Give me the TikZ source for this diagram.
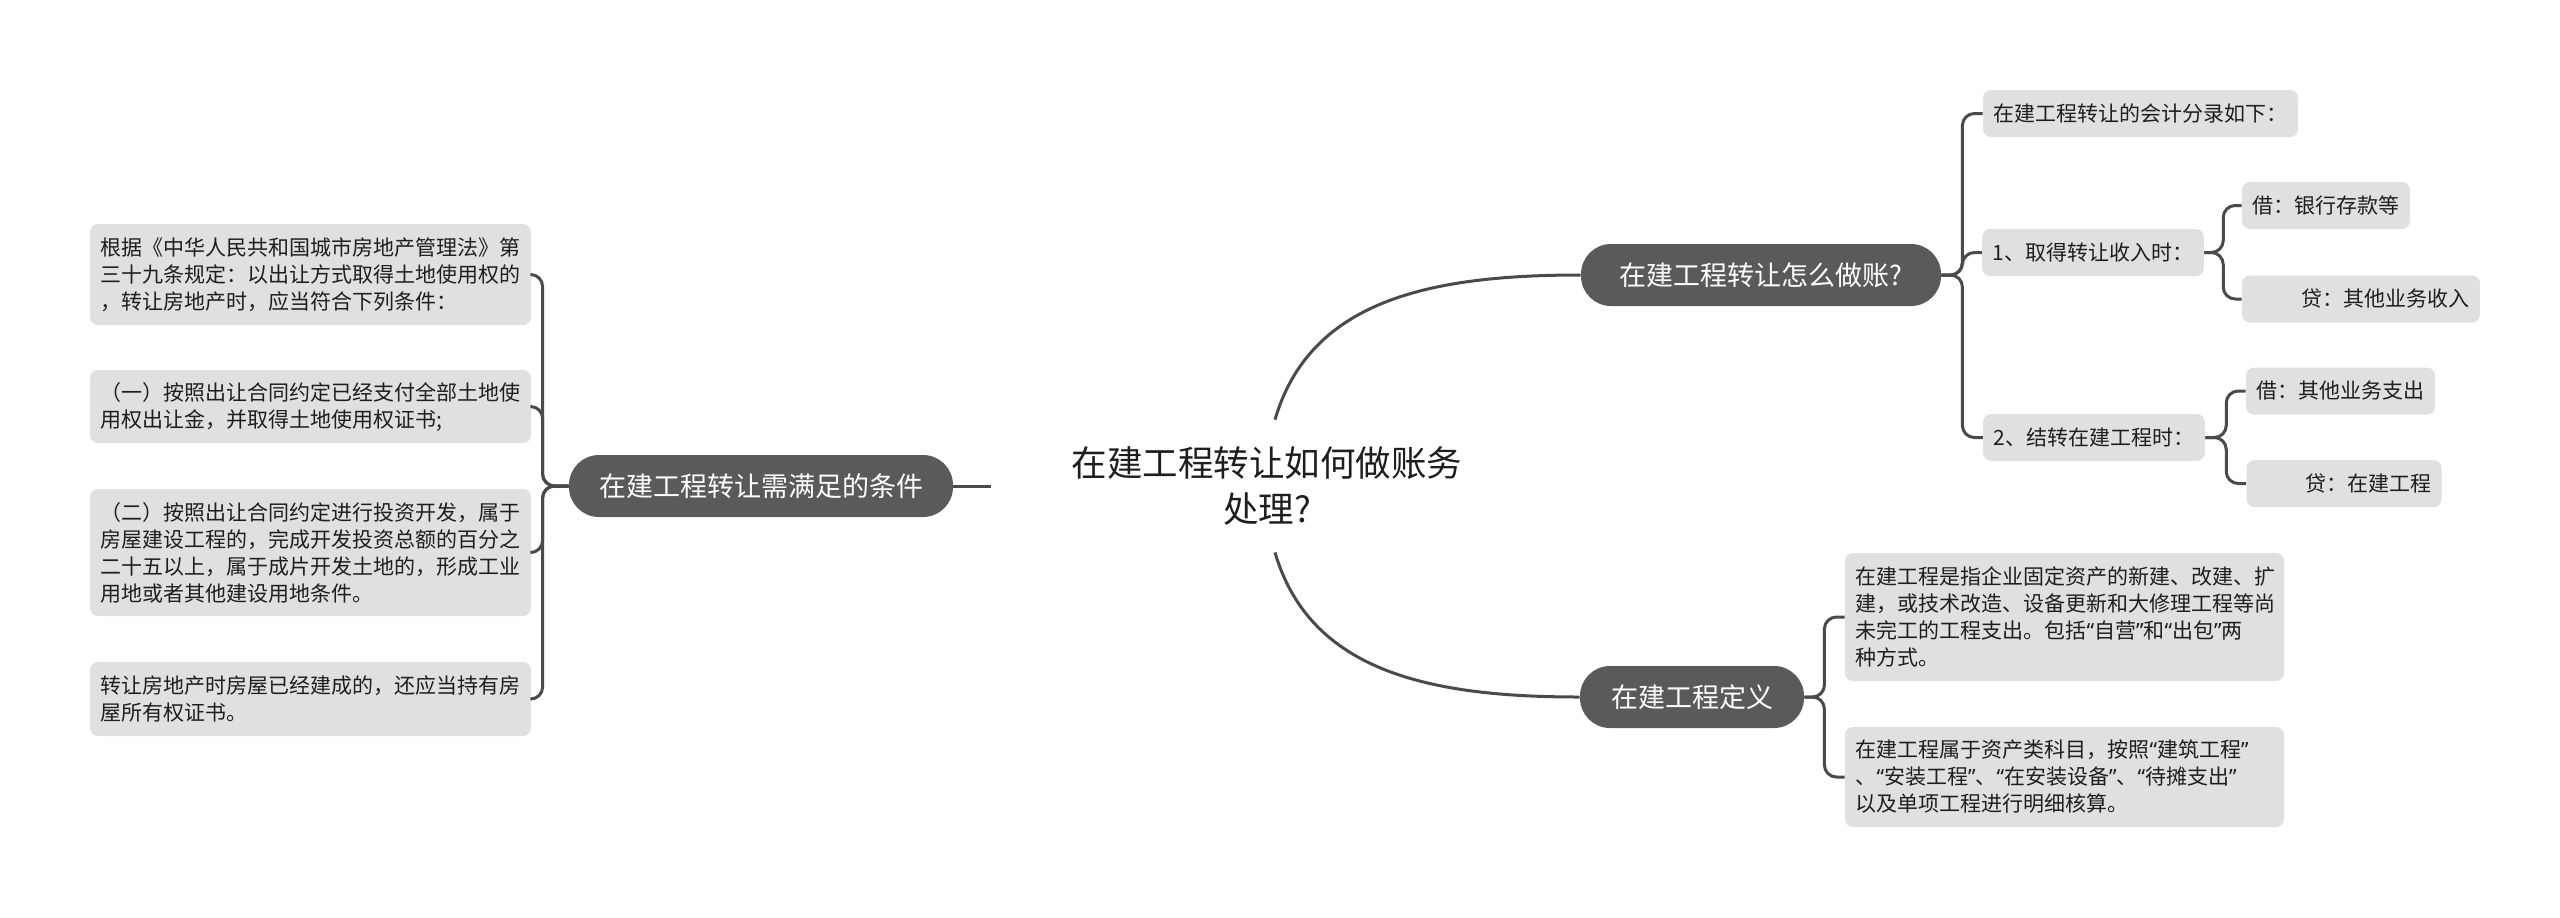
\documentclass[tikz,border=0pt]{standalone}
\usepackage{fontspec}
\setmainfont{Noto Sans CJK SC}
\newfontfamily\quotefont{Noto Sans}
\newcommand{\myqo}{{\quotefont “}}
\newcommand{\myqc}{{\quotefont ”}}
\definecolor{leafc}{HTML}{E0E0E0}
\definecolor{pillc}{HTML}{5A5A5A}
\definecolor{linec}{HTML}{4A4A4A}
\definecolor{textc}{HTML}{1E1E1E}
\tikzset{
  leaf/.style={fill=leafc, rounded corners=4pt, inner xsep=5.25pt, inner ysep=0pt, align=left, text=textc, font=\fontsize{10.5}{13.5}\selectfont, anchor=center},
  pill/.style={fill=pillc, rounded corners=15pt, inner sep=0pt, text=white, font=\fontsize{13.5}{16}\selectfont, minimum height=31pt},
  rootbox/.style={inner sep=0pt, align=center, text=textc, font=\fontsize{17.75}{23}\selectfont, minimum width=276pt, minimum height=66pt},
  conn/.style={draw=linec, line width=1.5pt},
  bconn/.style={conn, rounded corners=6pt}
}
\begin{document}
\begin{tikzpicture}[x=0.5pt,y=-0.5pt]
\fill[white] (0,0) rectangle (2560,917);
\useasboundingbox (0,0) rectangle (2560,917);

% root
\node[rootbox] (root) at (1267,486) {在建工程转让如何做账务\\处理?};

% main branches
\node[pill, minimum width=192pt] (lp) at (761,486) {在建工程转让需满足的条件};
\node[pill, minimum width=180pt] (p1) at (1761,275) {在建工程转让怎么做账?};
\node[pill, minimum width=112pt] (p2) at (1692,697) {在建工程定义};

% left leaves
\node[leaf, minimum width=220.5pt, minimum height=50.5pt] (L1) at (310.5,274.5) {根据《中华人民共和国城市房地产管理法》第\\三十九条规定：以出让方式取得土地使用权的\\，转让房地产时，应当符合下列条件：};
\node[leaf, minimum width=220.5pt, minimum height=36.5pt] (L2) at (310.5,406.5) {（一）按照出让合同约定已经支付全部土地使\\用权出让金，并取得土地使用权证书;};
\node[leaf, minimum width=220.5pt, minimum height=63.5pt] (L3) at (310.5,552.5) {（二）按照出让合同约定进行投资开发，属于\\房屋建设工程的，完成开发投资总额的百分之\\二十五以上，属于成片开发土地的，形成工业\\用地或者其他建设用地条件。};
\node[leaf, minimum width=220.5pt, minimum height=37pt] (L4) at (310.5,699) {转让房地产时房屋已经建成的，还应当持有房\\屋所有权证书。};

% right top leaves
\node[leaf, minimum width=157.5pt, minimum height=23.5pt] (R1) at (2140.5,113.5) {在建工程转让的会计分录如下：};
\node[leaf, minimum width=110pt, minimum height=23.5pt] (R2) at (2093,252.5) {1、取得转让收入时：};
\node[leaf, minimum width=110pt, minimum height=23.5pt] (R3) at (2094,437.5) {2、结转在建工程时：};
\node[leaf, minimum width=84pt, minimum height=23.5pt] (R2a) at (2326,205.5) {借：银行存款等};
\node[leaf, minimum width=119pt, minimum height=23.5pt] (R2b) at (2361,299) {\hspace*{24pt}贷：其他业务收入};
\node[leaf, minimum width=93.5pt, minimum height=23.5pt] (R3a) at (2340.5,391) {借：其他业务支出};
\node[leaf, minimum width=97pt, minimum height=23.5pt] (R3b) at (2344,483.5) {\hspace*{24pt}贷：在建工程};

% right bottom leaves
\node[leaf, text width=209pt, minimum height=64pt] (B1) at (2064.5,617) {在建工程是指企业固定资产的新建、改建、扩\\建，或技术改造、设备更新和大修理工程等尚\\未完工的工程支出。包括\myqo 自营\myqc 和\myqo 出包\myqc 两\\种方式。};
\node[leaf, text width=209pt, minimum height=50pt] (B2) at (2064.5,777) {在建工程属于资产类科目，按照\myqo 建筑工程\myqc\\、\myqo 安装工程\myqc 、\myqo 在安装设备\myqc 、\myqo 待摊支出\myqc\\以及单项工程进行明细核算。};

% connectors from root
\draw[conn] (root.west) -- (lp.east);
\draw[conn] ([xshift=4pt]root.north) .. controls (1310,300) and (1430,275) .. (p1.west);
\draw[conn] ([xshift=4pt]root.south) .. controls (1310,672) and (1430,697) .. (p2.west);

% left bracket
\foreach \c in {L1,L2,L3,L4}
  \draw[bconn] (lp.west) -- ++(-26,0) |- (\c.east);

% right top bracket
\foreach \c in {R1,R2,R3}
  \draw[bconn] (p1.east) -- ++(21,0) |- (\c.west);
\foreach \c in {R2a,R2b}
  \draw[bconn] (R2.east) -- ++(19,0) |- (\c.west);
\foreach \c in {R3a,R3b}
  \draw[bconn] (R3.east) -- ++(21,0) |- (\c.west);

% right bottom bracket
\foreach \c in {B1,B2}
  \draw[bconn] (p2.east) -- ++(20,0) |- (\c.west);
\end{tikzpicture}
\end{document}
